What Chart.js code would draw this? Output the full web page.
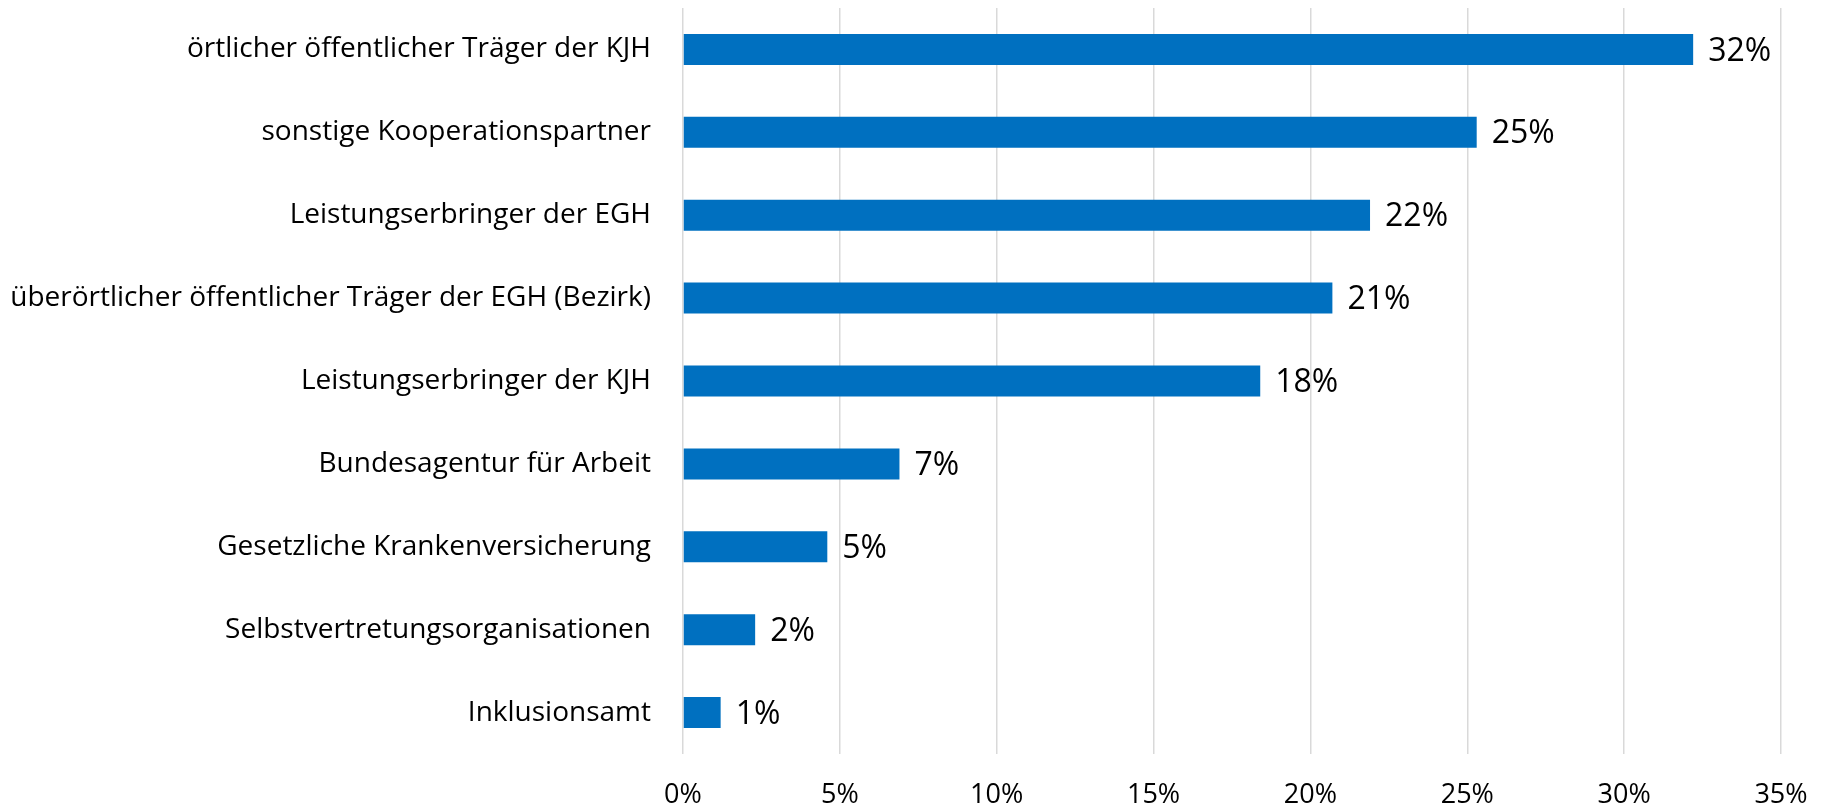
<!DOCTYPE html>
<html lang="de">
<head>
<meta charset="utf-8">
<title>Kooperationspartner</title>
<script src="https://cdn.jsdelivr.net/npm/chart.js@4.4.1/dist/chart.umd.min.js"></script>
<style>
  html, body { margin: 0; padding: 0; background: #fff; }
  .chart-box { position: relative; width: 1826px; height: 810px; }
</style>
</head>
<body>
<div class="chart-box"><canvas id="barChart"></canvas></div>
<script>
const categories = [
  "örtlicher öffentlicher Träger der KJH",
  "sonstige Kooperationspartner",
  "Leistungserbringer der EGH",
  "überörtlicher öffentlicher Träger der EGH (Bezirk)",
  "Leistungserbringer der KJH",
  "Bundesagentur für Arbeit",
  "Gesetzliche Krankenversicherung",
  "Selbstvertretungsorganisationen",
  "Inklusionsamt",
];
const shares = [32.2, 25.3, 21.9, 20.7, 18.4, 6.9, 4.6, 2.3, 1.2];
const xTicks = [0, 5, 10, 15, 20, 25, 30, 35];

const FONT = "'Open Sans', 'DejaVu Sans', sans-serif";

// Prozentwerte rechts neben die Balken schreiben
const valueLabels = {
  id: "valueLabels",
  afterDatasetsDraw(chart) {
    const { ctx } = chart;
    const meta = chart.getDatasetMeta(0);
    ctx.save();
    ctx.font = `32px ${FONT}`;
    ctx.fillStyle = "#000";
    ctx.textAlign = "left";
    ctx.textBaseline = "middle";
    meta.data.forEach((bar, i) => {
      ctx.fillText(Math.round(shares[i]) + "%", bar.x + 15, bar.y + 2);
    });
    ctx.restore();
  },
};

const ctx = document.getElementById("barChart").getContext("2d");
new Chart(ctx, {
  type: "bar",
  data: {
    labels: categories,
    datasets: [
      {
        data: shares,
        backgroundColor: "#0070C0",
        borderWidth: 0,
        barPercentage: 0.374,
        categoryPercentage: 1,
      },
    ],
  },
  options: {
    indexAxis: "y",
    responsive: true,
    maintainAspectRatio: false,
    animation: false,
    layout: { padding: { top: 8, right: 45, left: 0, bottom: 0 } },
    plugins: {
      legend: { display: false },
      tooltip: { enabled: false },
    },
    scales: {
      x: {
        min: 0,
        max: 35,
        afterBuildTicks: (scale) => {
          scale.ticks = xTicks.map((v) => ({ value: v }));
        },
        afterFit: (scale) => {
          scale.height = 56;
          scale.paddingLeft = 0;
          scale.paddingRight = 0;
        },
        border: { display: false },
        grid: { color: "#d9d9d9", lineWidth: 1.5, drawTicks: false },
        ticks: {
          color: "#000",
          padding: 25,
          font: { family: FONT, size: 27 },
          callback: (v) => v + "%",
        },
      },
      y: {
        afterFit: (scale) => {
          scale.width = 683;
          scale.paddingTop = 0;
          scale.paddingBottom = 0;
        },
        border: { display: false },
        grid: { display: false, drawTicks: false },
        ticks: {
          color: "#000",
          padding: 32,
          font: { family: FONT, size: 28 },
        },
      },
    },
  },
  plugins: [valueLabels],
});
</script>
</body>
</html>
